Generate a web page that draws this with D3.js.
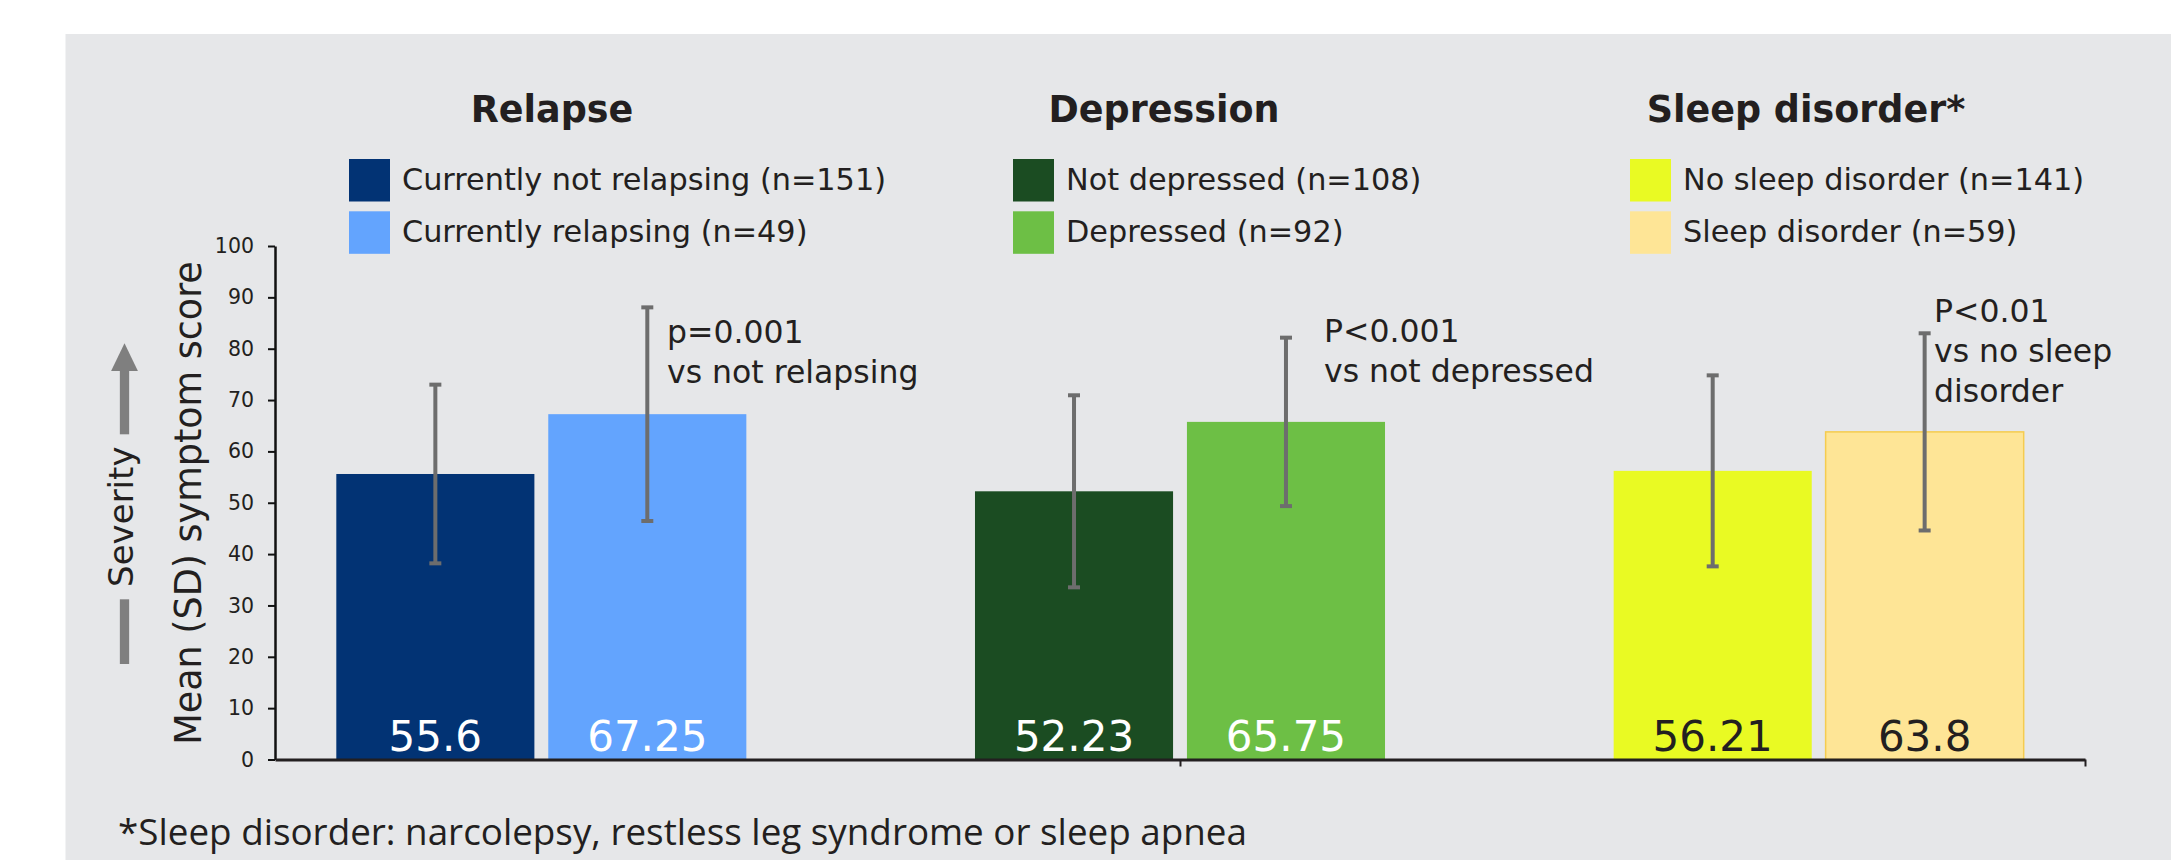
<!DOCTYPE html>
<html>
<head>
<meta charset="utf-8">
<script src="https://cdn.jsdelivr.net/npm/d3@7"></script>
<style>
  html, body { margin: 0; padding: 0; background: #ffffff; }
  svg { display: block; }
  text { font-family: "DejaVu Sans", Verdana, sans-serif; fill: #231f20; }
</style>
</head>
<body>
<svg id="chart"></svg>
<script>
// ---- data ----
const groups = ["Relapse", "Depression", "Sleep disorder*"];
const seriesNames = [
  ["Currently not relapsing (n=151)", "Currently relapsing (n=49)"],
  ["Not depressed (n=108)", "Depressed (n=92)"],
  ["No sleep disorder (n=141)", "Sleep disorder (n=59)"]
];
const meanScores = [[55.6, 67.25], [52.23, 65.75], [56.21, 63.8]];
const sdScores = [[17.4, 20.8], [18.7, 16.4], [18.6, 19.2]];
const comparisonNotes = [
  ["p=0.001", "vs not relapsing"],
  ["P<0.001", "vs not depressed"],
  ["P<0.01", "vs no sleep", "disorder"]
];
const yTicks = [0, 10, 20, 30, 40, 50, 60, 70, 80, 90, 100];
const yTitle = "Mean (SD) symptom score";
const arrowLabel = "Severity";
const footnote = "*Sleep disorder: narcolepsy, restless leg syndrome or sleep apnea";

// ---- styling ----
const barFill = [["#023374", "#63a4fe"], ["#1b4c22", "#6dbf45"], ["#e9fa23", "#fee596"]];
const barStroke = [[null, null], [null, null], [null, "#f5cc4f"]];
const valueFill = [["#ffffff", "#ffffff"], ["#ffffff", "#ffffff"], ["#231f20", "#231f20"]];

// ---- layout ----
const W = 2171, H = 860;
const plotLeft = 275, plotRight = 2085, plotBottom = 759.5, plotTop = 246;
const titleX = [552, 1164, 1806];
const legendX = [349, 1013, 1630];
const noteX = [667, 1324, 1934];
const noteY = [343, 342, 322];

const svg = d3.select("#chart").attr("width", W).attr("height", H);

// grey backdrop panel
svg.append("rect")
  .attr("x", 65.5).attr("y", 34)
  .attr("width", W - 65.5).attr("height", H - 34)
  .attr("fill", "#e6e7e9");

// scales
const x0 = d3.scaleBand().domain(groups)
  .range([plotLeft, plotRight]).paddingInner(0.358).paddingOuter(0.096);
const x1 = d3.scaleBand().domain([0, 1])
  .range([0, x0.bandwidth()]).paddingInner(0.0655);
const y = d3.scaleLinear().domain([0, 100]).range([plotBottom, plotTop]);

const rows = [];
groups.forEach((g, gi) => {
  meanScores[gi].forEach((m, si) => {
    rows.push({ g, gi, si, mean: m, sd: sdScores[gi][si] });
  });
});

// bars
const barG = svg.append("g");
barG.selectAll("rect").data(rows).join("rect")
  .attr("x", d => x0(d.g) + x1(d.si))
  .attr("y", d => y(d.mean))
  .attr("width", x1.bandwidth())
  .attr("height", d => y(0) - y(d.mean))
  .attr("fill", d => barFill[d.gi][d.si])
  .attr("stroke", d => barStroke[d.gi][d.si] || "none")
  .attr("stroke-width", 1.5);

// value labels inside bars
barG.selectAll("text").data(rows).join("text")
  .attr("x", d => x0(d.g) + x1(d.si) + x1.bandwidth() / 2)
  .attr("y", y(0) - 8.5)
  .attr("text-anchor", "middle")
  .style("font-size", "42px")
  .style("fill", d => valueFill[d.gi][d.si])
  .text(d => d.mean);

// SD error bars
const errG = svg.append("g").attr("stroke", "#6d6d6d").attr("stroke-width", 4);
const cx = d => x0(d.g) + x1(d.si) + x1.bandwidth() / 2;
errG.selectAll("line.stem").data(rows).join("line").attr("class", "stem")
  .attr("x1", cx).attr("x2", cx)
  .attr("y1", d => y(d.mean + d.sd)).attr("y2", d => y(d.mean - d.sd));
errG.selectAll("line.capTop").data(rows).join("line").attr("class", "capTop")
  .attr("x1", d => cx(d) - 6).attr("x2", d => cx(d) + 6)
  .attr("y1", d => y(d.mean + d.sd)).attr("y2", d => y(d.mean + d.sd));
errG.selectAll("line.capBot").data(rows).join("line").attr("class", "capBot")
  .attr("x1", d => cx(d) - 6).attr("x2", d => cx(d) + 6)
  .attr("y1", d => y(d.mean - d.sd)).attr("y2", d => y(d.mean - d.sd));

// y axis
const yAxis = svg.append("g")
  .attr("transform", `translate(${plotLeft},0)`)
  .call(d3.axisLeft(y).tickValues(yTicks).tickSize(7).tickSizeOuter(0).tickPadding(14));
yAxis.select(".domain").attr("stroke", "#111").attr("stroke-width", 2.5);
yAxis.selectAll(".tick line").attr("stroke", "#111").attr("stroke-width", 2);
yAxis.selectAll(".tick text")
  .style("font-family", "'DejaVu Sans', Verdana, sans-serif")
  .style("font-size", "20.5px").style("fill", "#231f20");

// x axis: baseline with division ticks
const xDiv = d3.scaleLinear().domain([0, 2]).range([plotLeft, plotRight]);
const xAxis = svg.append("g")
  .attr("transform", `translate(0,${y(0)})`)
  .call(d3.axisBottom(xDiv).tickValues([1, 2]).tickSize(7).tickSizeOuter(0).tickFormat(""));
xAxis.select(".domain").attr("stroke", "#231f20").attr("stroke-width", 3);
xAxis.selectAll(".tick line").attr("stroke", "#231f20").attr("stroke-width", 2);

// group titles
svg.append("g").selectAll("text").data(groups).join("text")
  .attr("x", (d, i) => titleX[i]).attr("y", 121.5)
  .attr("text-anchor", "middle")
  .style("font-size", "36.5px").style("font-weight", "bold")
  .text(d => d);

// legends
groups.forEach((g, gi) => {
  const lg = svg.append("g").attr("transform", `translate(${legendX[gi]},0)`);
  seriesNames[gi].forEach((name, si) => {
    const top = 159 + si * 52.3;
    lg.append("rect")
      .attr("x", 0).attr("y", top).attr("width", 41).attr("height", 42.5)
      .attr("fill", barFill[gi][si]);
    lg.append("text")
      .attr("x", 53).attr("y", top + 30.5)
      .style("font-size", "30.3px")
      .text(name);
  });
});

// significance notes next to the comparison bars
comparisonNotes.forEach((lines, gi) => {
  const t = svg.append("text")
    .attr("x", noteX[gi]).attr("y", noteY[gi])
    .style("font-size", "31.5px");
  lines.forEach((ln, li) => {
    t.append("tspan").attr("x", noteX[gi]).attr("dy", li === 0 ? 0 : 40).text(ln);
  });
});

// y axis title
svg.append("text")
  .attr("transform", "translate(201,503) rotate(-90)")
  .attr("text-anchor", "middle")
  .style("font-size", "36.5px")
  .text(yTitle);

// severity arrow
const arrowX = 124.5;
svg.append("rect").attr("x", arrowX - 4.65).attr("y", 599.3).attr("width", 9.3).attr("height", 64.7)
  .attr("fill", "#7f7f7f");
svg.append("rect").attr("x", arrowX - 4.65).attr("y", 370).attr("width", 9.3).attr("height", 64.3)
  .attr("fill", "#7f7f7f");
svg.append("path")
  .attr("d", `M${arrowX},343.3 L${arrowX + 13.4},371 L${arrowX - 13.4},371 Z`)
  .attr("fill", "#7f7f7f");
svg.append("text")
  .attr("transform", "translate(132.7,516.7) rotate(-90)")
  .attr("text-anchor", "middle")
  .style("font-size", "34px")
  .text(arrowLabel);

// footnote
svg.append("text")
  .attr("x", 118).attr("y", 845)
  .style("font-family", "'Open Sans', 'Noto Sans', sans-serif")
  .style("font-size", "36.8px")
  .text(footnote);
</script>
</body>
</html>
